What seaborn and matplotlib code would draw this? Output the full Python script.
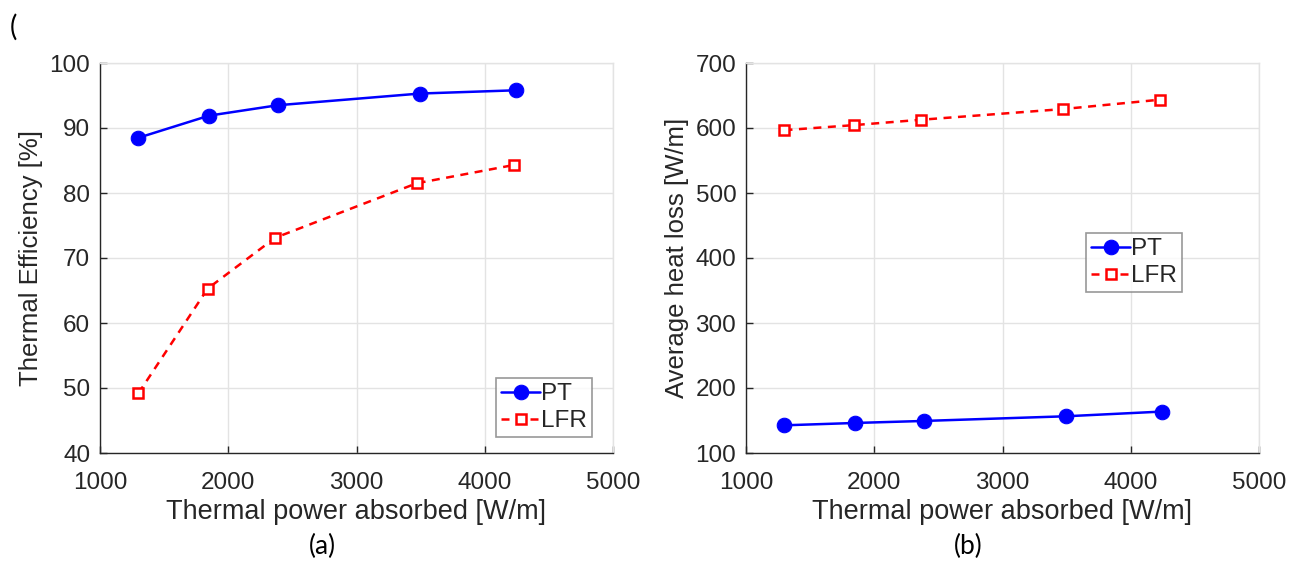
import matplotlib
matplotlib.use("Agg")
import matplotlib.pyplot as plt
import seaborn as sns
import pandas as pd

sns.set_theme(style="white")
plt.rcParams['font.family'] = ['Liberation Sans', 'DejaVu Sans']

# ---- data ----
pt_power = [1300, 1850, 2385, 3495, 4240]
lfr_power = [1300, 1840, 2365, 3470, 4225]
pt_eff = [88.5, 91.9, 93.5, 95.3, 95.8]
lfr_eff = [49.2, 65.3, 73.1, 81.5, 84.3]
pt_loss = [142.6, 146.2, 149.3, 156.5, 163.7]
lfr_loss = [596.7, 604.4, 612.7, 629.1, 643.5]
series_names = ["PT", "LFR"]
x_ticks = [1000, 2000, 3000, 4000, 5000]
eff_ticks = [40, 50, 60, 70, 80, 90, 100]
loss_ticks = [100, 200, 300, 400, 500, 600, 700]

TXT = "#262626"
fig = plt.figure(figsize=(12.99, 5.61), dpi=100)
axA = fig.add_axes([100/1299, 108/561, 513/1299, 390/561])
axB = fig.add_axes([746/1299, 108/561, 513/1299, 390/561])


def draw(ax, pt_vals, lfr_vals, yticks, ylabel, leg_anchor):
    df_pt = pd.DataFrame({"x": pt_power, "y": pt_vals})
    df_lfr = pd.DataFrame({"x": lfr_power, "y": lfr_vals})
    sns.lineplot(data=df_pt, x="x", y="y", ax=ax, color="#0000ff", marker="o",
                 markersize=10.5, markeredgecolor="#0000ff", linewidth=1.8,
                 label=series_names[0])
    sns.lineplot(data=df_lfr, x="x", y="y", ax=ax, color="#ff0000", marker="s",
                 markersize=7, markerfacecolor="white", markeredgecolor="#ff0000",
                 markeredgewidth=1.8, linewidth=1.8, linestyle=(0, (3.2, 2.6)),
                 label=series_names[1])
    ax.set_xlim(x_ticks[0], x_ticks[-1])
    ax.set_ylim(yticks[0], yticks[-1])
    ax.set_xticks(x_ticks)
    ax.set_yticks(yticks)
    ax.grid(True, color="#e3e3e3", linewidth=1.0)
    ax.set_axisbelow(True)
    for s in ["left", "bottom"]:
        ax.spines[s].set_color("#262626")
        ax.spines[s].set_linewidth(1.0)
    for s in ["top", "right"]:
        ax.spines[s].set_color("#e3e3e3")
        ax.spines[s].set_linewidth(1.0)
    ax.tick_params(axis="both", direction="in", length=5, width=1.0,
                   colors=TXT, labelsize=17.5, top=False, right=False,
                   left=True, bottom=True)
    ax.tick_params(axis="y", pad=7)
    ax.tick_params(axis="x", pad=14)
    ax.set_xlabel("Thermal power absorbed [W/m]", fontsize=19.5, color=TXT, labelpad=3)
    ax.set_ylabel(ylabel, fontsize=18.5, color=TXT, labelpad=5)
    leg = ax.legend(loc="lower right", bbox_to_anchor=leg_anchor, fontsize=17.5,
                    frameon=True, fancybox=False, edgecolor="#7f7f7f",
                    handlelength=1.6, handletextpad=0.05, borderpad=0.2,
                    labelspacing=0.2, borderaxespad=0.0)
    leg.get_frame().set_linewidth(1.2)
    for t in leg.get_texts():
        t.set_color(TXT)


draw(axA, pt_eff, lfr_eff, eff_ticks, "Thermal Efficiency [%]", (0.959, 0.041))
draw(axB, pt_loss, lfr_loss, loss_ticks, "Average heat loss [W/m]", (0.85, 0.413))

fig.text(10/1299, 1 - 27/561, "(", fontsize=20, family=["Lato", "DejaVu Sans"],
         color="black", ha="left", va="center")
fig.text(322/1299, 1 - 546/561, "(a)", fontsize=19, family=["Lato", "DejaVu Sans"],
         color="black", ha="center", va="center")
fig.text(968/1299, 1 - 546/561, "(b)", fontsize=19, family=["Lato", "DejaVu Sans"],
         color="black", ha="center", va="center")

fig.savefig("out.png", dpi=100, facecolor="white")
